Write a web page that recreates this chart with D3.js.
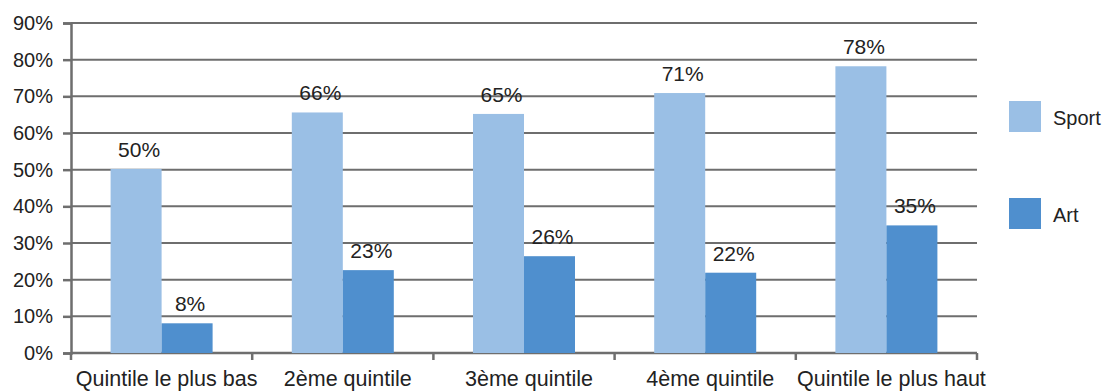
<!DOCTYPE html>
<html>
<head>
<meta charset="utf-8">
<script src="https://cdn.jsdelivr.net/npm/d3@7.9.0/dist/d3.min.js"></script>
<style>
  body { margin: 0; background: #fff; }
  svg { display: block; font-family: "Liberation Sans", Arial, sans-serif; }
</style>
</head>
<body>
<svg id="chart" width="1104" height="392"></svg>
<script>
// chart data
const categories = ['Quintile le plus bas', '2ème quintile', '3ème quintile', '4ème quintile', 'Quintile le plus haut'];
const seriesNames = ['Sport', 'Art'];
const sport = [50.2, 65.6, 65.2, 70.9, 78.2];
const art = [8.1, 22.6, 26.4, 21.9, 34.8];
const yTicks = [0, 10, 20, 30, 40, 50, 60, 70, 80, 90];

const colors = { Sport: '#9abfe5', Art: '#4f8fce' };

const svg = d3.select('#chart');
const margin = { left: 71, right: 127, top: 23, bottom: 39 };
const width = 1104 - margin.left - margin.right;
const height = 392 - margin.top - margin.bottom;

const g = svg.append('g').attr('transform', `translate(${margin.left},${margin.top})`);

const x = d3.scaleBand().domain(categories).range([0, width]);
const x1 = d3.scaleBand().domain(seriesNames).range([0, 102]);
const y = d3.scaleLinear().domain([0, 90]).range([height, 0]);

// gridlines
g.selectAll('.grid')
  .data(yTicks)
  .join('line')
  .attr('x1', 0).attr('x2', width)
  .attr('y1', d => y(d)).attr('y2', d => y(d))
  .attr('stroke', '#6e6e6e').attr('stroke-width', 2);

// y axis
const yAxis = g.append('g')
  .call(d3.axisLeft(y).tickValues(yTicks).tickFormat(d => d + '%').tickSize(8).tickPadding(10));
yAxis.select('.domain').attr('stroke', '#6e6e6e').attr('stroke-width', 2.5);
yAxis.selectAll('.tick line').attr('stroke', '#6e6e6e').attr('stroke-width', 2.5);
yAxis.selectAll('text').attr('font-size', 20).attr('fill', '#222').attr('font-family', '"Liberation Sans", Arial, sans-serif');

// x axis with ticks at category boundaries
const xAxis = g.append('g').attr('transform', `translate(0,${height})`);
xAxis.append('line').attr('x1', 0).attr('x2', width).attr('stroke', '#6e6e6e').attr('stroke-width', 2.5);
const bounds = categories.map(c => x(c)).concat([width]);
xAxis.selectAll('.bt')
  .data(bounds)
  .join('line')
  .attr('x1', d => d).attr('x2', d => d)
  .attr('y1', 0).attr('y2', 7)
  .attr('stroke', '#6e6e6e').attr('stroke-width', 2.5);
xAxis.selectAll('.cl')
  .data(categories)
  .join('text')
  .attr('x', d => x(d) + x.bandwidth() / 2 + 5)
  .attr('y', 33)
  .attr('text-anchor', 'middle')
  .attr('font-size', 21.5)
  .attr('fill', '#222')
  .text(d => d);

// bars
const rows = categories.map((c, i) => ({ cat: c, Sport: sport[i], Art: art[i] }));
const groups = g.selectAll('.grp')
  .data(rows)
  .join('g')
  .attr('transform', d => `translate(${x(d.cat) + (x.bandwidth() - 102) / 2},0)`);

groups.selectAll('rect')
  .data(d => seriesNames.map(s => ({ s, v: d[s] })))
  .join('rect')
  .attr('x', d => x1(d.s))
  .attr('width', x1.bandwidth())
  .attr('y', d => y(d.v))
  .attr('height', d => height - y(d.v))
  .attr('fill', d => colors[d.s]);

groups.selectAll('.lbl')
  .data(d => seriesNames.map(s => ({ s, v: d[s] })))
  .join('text')
  .attr('x', d => x1(d.s) + x1.bandwidth() / 2 + 3)
  .attr('y', d => y(d.v) - 12)
  .attr('text-anchor', 'middle')
  .attr('font-size', 21)
  .attr('fill', '#222')
  .text(d => Math.round(d.v) + '%');

// legend
const legend = svg.append('g').attr('transform', 'translate(1009,101)');
legend.selectAll('rect')
  .data(seriesNames)
  .join('rect')
  .attr('x', 0).attr('y', (d, i) => i * 97)
  .attr('width', 32).attr('height', 31)
  .attr('fill', d => colors[d]);
legend.selectAll('text')
  .data(seriesNames)
  .join('text')
  .attr('x', 44).attr('y', (d, i) => i * 97 + 24)
  .attr('font-size', 20)
  .attr('fill', '#222')
  .text(d => d);
</script>
</body>
</html>
